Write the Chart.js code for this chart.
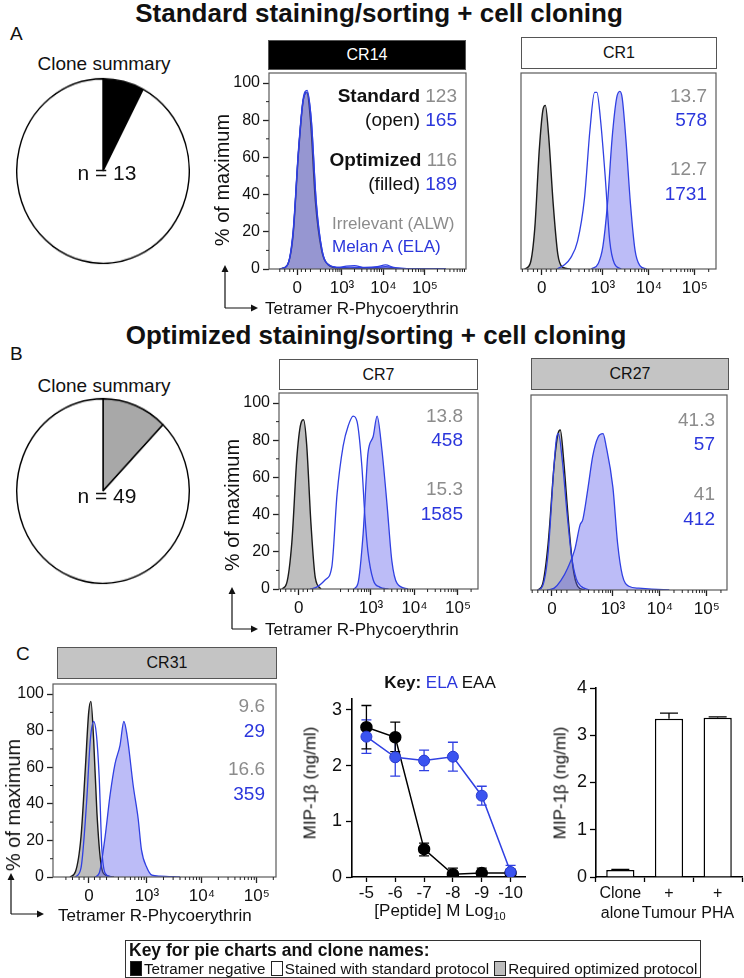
<!DOCTYPE html>
<html>
<head>
<meta charset="utf-8">
<script src="https://cdn.jsdelivr.net/npm/chart.js@4.4.1/dist/chart.umd.min.js"></script>
<style>
    body { margin: 0; background: #fff; }
    #fig { position: relative; width: 744px; height: 978px; overflow: hidden; font-family: "Liberation Sans", Arial, sans-serif; color: #111; }
    #fig canvas { position: absolute; }
    .t { position: absolute; white-space: nowrap; line-height: 1; }
    .hdr { position: absolute; box-sizing: border-box; border: 1px solid #555; font-size: 16px; display: flex; align-items: center; justify-content: center; }
    .key { position: absolute; box-sizing: border-box; border: 1px solid #333; white-space: nowrap; }
    .sw { display: inline-block; box-sizing: border-box; width: 12px; height: 15px; border: 1px solid #222; vertical-align: -2px; margin: 0 2px 0 1px; }
</style>
</head>
<body>
<div id="fig"></div>
<script>
// ---- pie summaries ----
const pieALabels = ['Tetramer negative', 'Stained with standard protocol'];
const pieAValues = [1, 12];
const pieBLabels = ['Required optimized protocol', 'Stained with standard protocol'];
const pieBValues = [6, 43];

// ---- histogram axis ----
const histTickLabels = ['0', '10³', '10⁴', '10⁵'];
const histYTicks = [0, 20, 40, 60, 80, 100];

// CR14 (standard vs optimized, all negative)
const cr14IrrX = [1.50, 1.68, 1.82, 1.95, 2.06, 2.15, 2.24, 2.36, 2.50, 2.68, 2.90, 3.40, 4.50, 5.50];
const cr14IrrY = [0, 2, 18, 62, 90, 95, 80, 36, 11, 2, 0.5, 0.3, 0.2, 0];
const cr14OpenX = [1.50, 1.68, 1.82, 1.95, 2.06, 2.16, 2.26, 2.38, 2.52, 2.70, 2.95, 3.10, 3.30, 3.55, 3.85, 4.05, 4.25, 4.60, 5.50];
const cr14OpenY = [0, 2, 20, 64, 91, 96, 80, 35, 10, 2, 0.8, 1.6, 1.8, 0.8, 1.2, 2.2, 0.8, 0.2, 0];
const cr14FillX = [1.50, 1.68, 1.82, 1.95, 2.06, 2.16, 2.26, 2.38, 2.52, 2.70, 2.95, 3.20, 3.60, 4.05, 4.40, 5.50];
const cr14FillY = [0, 2, 19, 63, 90, 95, 80, 36, 10, 2, 0.8, 1.0, 0.6, 1.2, 0.3, 0];

// CR1
const cr1IrrX = [1.30, 1.42, 1.52, 1.62, 1.70, 1.75, 1.82, 1.92, 2.02, 2.12, 2.30];
const cr1IrrY = [0, 3, 22, 65, 86, 88, 72, 35, 8, 1, 0];
const cr1OpenX = [2.00, 2.15, 2.30, 2.45, 2.60, 2.72, 2.82, 2.87, 2.95, 3.05, 3.15, 3.25, 3.40];
const cr1OpenY = [0, 2, 6, 15, 38, 75, 95, 95, 80, 50, 15, 3, 0];
const cr1FillX = [2.75, 2.90, 3.00, 3.10, 3.20, 3.30, 3.37, 3.42, 3.50, 3.60, 3.70, 3.80, 3.95];
const cr1FillY = [0, 3, 12, 35, 70, 92, 95.5, 92, 70, 35, 10, 2, 0];

// CR7
const cr7IrrX = [0.95, 1.06, 1.18, 1.30, 1.40, 1.45, 1.52, 1.62, 1.72, 1.85];
const cr7IrrY = [0, 3, 25, 72, 90, 91, 78, 35, 6, 0];
const cr7OpenX = [1.60, 1.75, 1.95, 2.10, 2.22, 2.36, 2.48, 2.59, 2.68, 2.79, 2.86, 2.93, 3.05, 3.20, 3.40];
const cr7OpenY = [0, 1, 5, 12, 51, 77, 88, 93, 90, 66, 39, 20, 5, 1, 0];
const cr7FillX = [2.60, 2.70, 2.82, 2.93, 3.05, 3.14, 3.25, 3.37, 3.48, 3.60, 3.85];
const cr7FillY = [0, 3, 30, 73, 82, 93, 75, 45, 15, 3, 0];

// CR27
const cr27IrrX = [1.40, 1.50, 1.62, 1.75, 1.83, 1.88, 1.95, 2.05, 2.15, 2.25, 2.40];
const cr27IrrY = [0, 3, 25, 68, 84, 86, 70, 38, 12, 2, 0];
const cr27OpenX = [1.40, 1.50, 1.62, 1.74, 1.80, 1.84, 1.92, 2.02, 2.12, 2.22, 2.32, 2.50];
const cr27OpenY = [0, 2, 20, 65, 82, 84, 70, 42, 18, 6, 2, 0];
const cr27FillX = [1.60, 1.75, 1.89, 2.04, 2.19, 2.30, 2.36, 2.47, 2.57, 2.68, 2.79, 2.85, 3.00, 3.10, 3.20, 3.34, 3.55, 3.83, 4.20];
const cr27FillY = [0, 1, 5, 12, 22, 35, 38, 55, 72, 82, 84, 78, 55, 25, 8, 2, 1, 0.5, 0];

// CR31
const cr31IrrX = [1.60, 1.70, 1.80, 1.88, 1.94, 1.98, 2.03, 2.09, 2.16, 2.25, 2.40];
const cr31IrrY = [0, 3, 22, 60, 90, 96, 75, 35, 8, 1, 0];
const cr31OpenX = [1.70, 1.80, 1.90, 1.97, 2.03, 2.08, 2.13, 2.18, 2.24, 2.35];
const cr31OpenY = [0, 5, 40, 75, 85, 78, 55, 15, 2, 0];
const cr31FillX = [2.05, 2.13, 2.23, 2.33, 2.42, 2.51, 2.58, 2.65, 2.75, 2.84, 2.90, 3.00, 3.09, 3.24, 3.60];
const cr31FillY = [0, 2, 20, 45, 62, 72, 85, 75, 50, 32, 15, 5, 1, 0.5, 0];

// ---- MIP-1b dose response ----
const doseX = [-5, -6, -7, -8, -9, -10];
const elaMean = [2.52, 2.15, 2.09, 2.16, 1.46, 0.09];
const elaLo = [2.22, 1.81, 1.91, 1.90, 1.29, 0.01];
const elaHi = [2.82, 2.48, 2.28, 2.42, 1.63, 0.21];
const eaaMean = [2.69, 2.51, 0.50, 0.05, 0.07, 0.07];
const eaaLo = [2.30, 2.25, 0.38, 0.02, 0.02, 0.02];
const eaaHi = [3.08, 2.78, 0.61, 0.16, 0.16, 0.14];

// ---- MIP-1b bars ----
const barLabels = [['Clone', 'alone'], ['+', 'Tumour'], ['+', 'PHA']];
const barMean = [0.15, 3.35, 3.37];
const barHi = [0.16, 3.47, 3.39];

const FONT = '"Liberation Sans", Arial, sans-serif';
const GRAY_TXT = '#8c8c8c';
const BLUE_TXT = '#2b36dc';
const BLUE_LINE = '#3040e2';
const BLUE_FILL = 'rgba(95,95,235,0.42)';
const GRAY_FILL = 'rgba(120,120,120,0.48)';

const fig = document.getElementById('fig');

// draws a box round the plot area
const framePlugin = {
    id: 'frame',
    afterDatasetsDraw(chart, args, opts) {
        if (!opts.color) return;
        const a = chart.chartArea, ctx = chart.ctx;
        ctx.save();
        ctx.strokeStyle = opts.color;
        ctx.lineWidth = 1.2;
        ctx.strokeRect(a.left, a.top, a.right - a.left, a.bottom - a.top);
        ctx.restore();
    }
};

// short unlabelled ticks placed through the chart scales
const minorTickPlugin = {
    id: 'minorTicks',
    afterDraw(chart, args, opts) {
        const a = chart.chartArea, ctx = chart.ctx;
        ctx.save();
        ctx.strokeStyle = '#222';
        ctx.lineWidth = 1;
        ctx.beginPath();
        (opts.x || []).forEach(v => {
            const px = chart.scales.x.getPixelForValue(v);
            if (px < a.left || px > a.right) return;
            ctx.moveTo(px, a.bottom); ctx.lineTo(px, a.bottom + (opts.len || 3));
        });
        (opts.y || []).forEach(v => {
            const py = chart.scales.y.getPixelForValue(v);
            ctx.moveTo(a.left - (opts.len || 3), py); ctx.lineTo(a.left, py);
        });
        ctx.stroke();
        ctx.restore();
    }
};

// error bars from lo/hi arrays
const errPlugin = {
    id: 'errBars',
    beforeDatasetsDraw(chart, args, opts) {
        if (!opts.sets) return;
        const ctx = chart.ctx, xs = chart.scales.x, ys = chart.scales.y;
        ctx.save();
        opts.sets.forEach(s => {
            ctx.strokeStyle = s.color;
            ctx.lineWidth = 1.3;
            ctx.beginPath();
            s.x.forEach((xv, i) => {
                const px = xs.getPixelForValue(xv);
                const lo = ys.getPixelForValue(s.lo ? s.lo[i] : s.mid[i]);
                const hi = ys.getPixelForValue(s.hi[i]);
                ctx.moveTo(px, lo); ctx.lineTo(px, hi);
                ctx.moveTo(px - s.cap, hi); ctx.lineTo(px + s.cap, hi);
                if (s.lo) { ctx.moveTo(px - s.cap, lo); ctx.lineTo(px + s.cap, lo); }
            });
            ctx.stroke();
        });
        ctx.restore();
    }
};

function addCanvas(box, yw, xh, pad) {
    const cv = document.createElement('canvas');
    const w = box.w + yw + pad.left + pad.right;
    const h = box.h + xh + pad.top + pad.bottom;
    cv.width = w; cv.height = h;
    cv.style.left = (box.x - yw - pad.left) + 'px';
    cv.style.top = (box.y - pad.top) + 'px';
    cv.style.width = w + 'px'; cv.style.height = h + 'px';
    fig.appendChild(cv);
    return cv;
}

function txt(html, x, y, opt = {}) {
    const d = document.createElement('div');
    d.className = 't';
    d.innerHTML = html;
    d.style.left = x + 'px';
    d.style.top = y + 'px';
    d.style.fontSize = (opt.size || 18) + 'px';
    if (opt.bold) d.style.fontWeight = 'bold';
    if (opt.color) d.style.color = opt.color;
    if (opt.rot) {
        d.style.transformOrigin = '50% 50%';
        d.style.transform = 'translate(-50%,-50%) rotate(-90deg)';
    } else {
        const ax = opt.align === 'right' ? '-100%' : opt.align === 'left' ? '0' : '-50%';
        d.style.transform = `translate(${ax},-50%)`;
    }
    fig.appendChild(d);
    return d;
}

function header(label, x, y, w, h, bg, fg) {
    const d = document.createElement('div');
    d.className = 'hdr';
    d.textContent = label;
    Object.assign(d.style, { left: x + 'px', top: y + 'px', width: w + 'px', height: h + 'px', background: bg, color: fg });
    fig.appendChild(d);
}

function pie(labels, values, colors, cx, cy, r, sy) {
    const cv = document.createElement('canvas');
    const s = 2 * r + 2;
    cv.width = s; cv.height = s;
    Object.assign(cv.style, { left: (cx - s / 2) + 'px', top: (cy - s / 2) + 'px', width: s + 'px', height: s + 'px', transform: `scaleY(${sy})` });
    fig.appendChild(cv);
    new Chart(cv, {
        type: 'pie',
        data: { labels: labels, datasets: [{ data: values, backgroundColor: colors, borderColor: '#000', borderWidth: 1.4, hoverOffset: 0, offset: 0 }] },
        options: { responsive: false, animation: false, events: [], layout: { padding: 0 }, plugins: { legend: { display: false }, tooltip: { enabled: false } } }
    });
}

function histMinorX(zero, max) {
    const out = [];
    [-0.42, -0.3, -0.18, -0.09, 0.1, 0.2, 0.32].forEach(d => out.push(zero + d));
    [3, 4, 5].forEach(dec => {
        for (let m = 2; m <= 9; m++) {
            const v = dec + Math.log10(m);
            if (v < max) out.push(v);
        }
    });
    [2.3, 2.48, 2.6, 2.7, 2.78, 2.85, 2.9, 2.95].forEach(v => { if (v > zero + 0.4) out.push(v); });
    return out;
}

function toPts(xs, ys) { return xs.map((x, i) => ({ x: x, y: ys[i] })); }

function hist(box, axis, curves, showY) {
    const yw = showY ? 42 : 0, xh = 30;
    const pad = { top: 16, right: 12, left: 2, bottom: 2 };
    const cv = addCanvas(box, yw, xh, pad);
    const line = (pts, color, fill, width) => ({
        data: pts, borderColor: color, borderWidth: width, backgroundColor: fill || 'transparent',
        fill: fill ? 'origin' : false, pointRadius: 0, cubicInterpolationMode: 'monotone'
    });
    new Chart(cv, {
        type: 'line',
        data: {
            datasets: [
                line(toPts(curves.openX, curves.openY), BLUE_LINE, null, 1.3),
                line(toPts(curves.fillX, curves.fillY), BLUE_LINE, BLUE_FILL, 1.3),
                line(toPts(curves.irrX, curves.irrY), '#1a1a1a', GRAY_FILL, 1.4)
            ]
        },
        options: {
            responsive: false, animation: false, events: [],
            layout: { padding: pad },
            plugins: {
                legend: { display: false }, tooltip: { enabled: false },
                frame: { color: '#5a5a5a' },
                minorTicks: { x: histMinorX(axis.zero, axis.max), y: showY ? [10, 30, 50, 70, 90] : [], len: 3 }
            },
            scales: {
                x: {
                    type: 'linear', min: axis.min, max: axis.max,
                    afterBuildTicks: s => { s.ticks = [axis.zero, 3, 4, 5].map(v => ({ value: v })); },
                    afterFit: s => { s.height = xh; },
                    border: { display: false },
                    grid: { drawOnChartArea: false, tickLength: 6, color: '#222', tickWidth: 1.3 },
                    ticks: { autoSkip: false, maxRotation: 0, padding: 3, color: '#111', font: { family: FONT, size: 17 }, callback: (v, i) => histTickLabels[i] }
                },
                y: {
                    display: showY, min: 0, max: axis.ymax,
                    afterBuildTicks: s => { s.ticks = histYTicks.map(v => ({ value: v })); },
                    afterFit: s => { s.width = yw; },
                    border: { display: false },
                    grid: { drawOnChartArea: false, tickLength: 6, color: '#222', tickWidth: 1.3 },
                    ticks: { padding: 3, color: '#111', font: { family: FONT, size: 16 } }
                }
            }
        },
        plugins: [framePlugin, minorTickPlugin]
    });
}

// ---------- titles and panel letters ----------
txt('Standard staining/sorting + cell cloning', 379, 13, { size: 26, bold: true });
txt('Optimized staining/sorting + cell cloning', 376, 335, { size: 26, bold: true });
txt('A', 10, 33, { size: 19, align: 'left' });
txt('B', 10, 353, { size: 19, align: 'left' });
txt('C', 16, 653, { size: 19, align: 'left' });

// ---------- pies ----------
txt('Clone summary', 104, 63, { size: 19 });
pie(pieALabels, pieAValues, ['#000', '#fff'], 103, 170.5, 86, 1.07);
txt('n = 13', 107, 172, { size: 21 });
txt('Clone summary', 104, 385, { size: 19 });
pie(pieBLabels, pieBValues, ['#a8a8a8', '#fff'], 103, 491, 86, 1.07);
txt('n = 49', 107, 495, { size: 21 });

// ---------- histograms ----------
header('CR14', 268, 40, 198, 30, '#000', '#fff');
hist({ x: 269, y: 73, w: 197, h: 196 }, { zero: 1.92, min: 1.24, max: 5.99, ymax: 105.4 },
    { irrX: cr14IrrX, irrY: cr14IrrY, openX: cr14OpenX, openY: cr14OpenY, fillX: cr14FillX, fillY: cr14FillY }, true);

header('CR1', 521, 37, 196, 32, '#fff', '#111');
hist({ x: 521, y: 73, w: 195, h: 196 }, { zero: 1.67, min: 1.22, max: 5.46, ymax: 105.4 },
    { irrX: cr1IrrX, irrY: cr1IrrY, openX: cr1OpenX, openY: cr1OpenY, fillX: cr1FillX, fillY: cr1FillY }, false);

header('CR7', 279, 359, 199, 31, '#fff', '#111');
hist({ x: 279, y: 393, w: 199, h: 196 }, { zero: 1.34, min: 0.885, max: 5.46, ymax: 105.4 },
    { irrX: cr7IrrX, irrY: cr7IrrY, openX: cr7OpenX, openY: cr7OpenY, fillX: cr7FillX, fillY: cr7FillY }, true);

header('CR27', 531, 358, 198, 32, '#c4c4c4', '#111');
hist({ x: 531, y: 395, w: 196, h: 195 }, { zero: 1.70, min: 1.255, max: 5.43, ymax: 104.8 },
    { irrX: cr27IrrX, irrY: cr27IrrY, openX: cr27OpenX, openY: cr27OpenY, fillX: cr27FillX, fillY: cr27FillY }, false);

header('CR31', 57, 647, 220, 32, '#c4c4c4', '#111');
hist({ x: 53, y: 684, w: 223, h: 193 }, { zero: 1.945, min: 1.29, max: 5.35, ymax: 105.5 },
    { irrX: cr31IrrX, irrY: cr31IrrY, openX: cr31OpenX, openY: cr31OpenY, fillX: cr31FillX, fillY: cr31FillY }, true);

// annotations
txt('<b style="color:#111">Standard</b> 123', 457, 95, { size: 19, align: 'right', color: GRAY_TXT });
txt('<span style="color:#111">(open)</span> 165', 457, 119, { size: 19, align: 'right', color: BLUE_TXT });
txt('<b style="color:#111">Optimized</b> 116', 457, 159, { size: 19, align: 'right', color: GRAY_TXT });
txt('<span style="color:#111">(filled)</span> 189', 457, 183, { size: 19, align: 'right', color: BLUE_TXT });
txt('Irrelevant (ALW)', 332, 223, { size: 17, align: 'left', color: GRAY_TXT });
txt('Melan A (ELA)', 332, 246, { size: 17, align: 'left', color: BLUE_TXT });

[['13.7', 95, GRAY_TXT], ['578', 119, BLUE_TXT], ['12.7', 168, GRAY_TXT], ['1731', 193, BLUE_TXT]]
    .forEach(r => txt(r[0], 707, r[1], { size: 19, align: 'right', color: r[2] }));
[['13.8', 415, GRAY_TXT], ['458', 439, BLUE_TXT], ['15.3', 488, GRAY_TXT], ['1585', 513, BLUE_TXT]]
    .forEach(r => txt(r[0], 463, r[1], { size: 19, align: 'right', color: r[2] }));
[['41.3', 419, GRAY_TXT], ['57', 443, BLUE_TXT], ['41', 493, GRAY_TXT], ['412', 518, BLUE_TXT]]
    .forEach(r => txt(r[0], 715, r[1], { size: 19, align: 'right', color: r[2] }));
[['9.6', 705, GRAY_TXT], ['29', 730, BLUE_TXT], ['16.6', 768, GRAY_TXT], ['359', 793, BLUE_TXT]]
    .forEach(r => txt(r[0], 265, r[1], { size: 19, align: 'right', color: r[2] }));

// axis titles for histograms
txt('% of maximum', 222, 180, { size: 20, rot: true });
txt('% of maximum', 232, 505, { size: 20, rot: true });
txt('% of maximum', 13, 805, { size: 20, rot: true });
txt('Tetramer R-Phycoerythrin', 265, 308, { size: 17, align: 'left' });
txt('Tetramer R-Phycoerythrin', 265, 629, { size: 17, align: 'left' });
txt('Tetramer R-Phycoerythrin', 58, 915, { size: 17, align: 'left' });

// axis arrows
const svgNS = 'http://www.w3.org/2000/svg';
const svg = document.createElementNS(svgNS, 'svg');
svg.setAttribute('width', 744); svg.setAttribute('height', 978);
svg.style.position = 'absolute'; svg.style.left = 0; svg.style.top = 0;
[[225, 308, 265, 258], [232, 629, 587, 258], [11, 914, 873, 44]].forEach(a => {
    const [x, y, yTop, xRight] = a;
    svg.innerHTML += `<path d="M${x} ${y} L${x} ${yTop + 6} M${x} ${y} L${xRight - 6} ${y}" stroke="#111" stroke-width="1.2" fill="none"/>` +
        `<path d="M${x - 3.5} ${yTop + 7} L${x} ${yTop} L${x + 3.5} ${yTop + 7} Z M${xRight - 7} ${y - 3.5} L${xRight} ${y} L${xRight - 7} ${y + 3.5} Z" fill="#111"/>`;
});
fig.appendChild(svg);

// ---------- dose response ----------
txt('<b>Key:</b> <span style="color:' + BLUE_TXT + '">ELA</span> EAA', 440, 682, { size: 17 });
(function () {
    const box = { x: 352, y: 698, w: 173, h: 179 };
    const yw = 32, xh = 24, pad = { top: 14, right: 16, left: 2, bottom: 2 };
    const cv = addCanvas(box, yw, xh, pad);
    new Chart(cv, {
        type: 'line',
        data: {
            datasets: [
                { data: toPts(doseX, elaMean), borderColor: BLUE_LINE, backgroundColor: '#3b54f0', pointBorderColor: '#2a3bd0', borderWidth: 1.5, pointRadius: 5.5, pointBorderWidth: 1, tension: 0 },
                { data: toPts(doseX, eaaMean), borderColor: '#000', backgroundColor: '#000', borderWidth: 1.5, pointRadius: 5.5, tension: 0 }
            ]
        },
        options: {
            responsive: false, animation: false, events: [],
            layout: { padding: pad },
            plugins: {
                legend: { display: false }, tooltip: { enabled: false },
                errBars: { sets: [
                    { x: doseX, lo: elaLo, hi: elaHi, color: BLUE_LINE, cap: 5 },
                    { x: doseX, lo: eaaLo, hi: eaaHi, color: '#000', cap: 5 }
                ] }
            },
            scales: {
                x: {
                    type: 'linear', reverse: true, min: -10.5, max: -4.5,
                    afterBuildTicks: s => { s.ticks = doseX.map(v => ({ value: v })); },
                    afterFit: s => { s.height = xh; },
                    border: { color: '#000', width: 1.6 },
                    grid: { drawOnChartArea: false, tickLength: 5, color: '#000', tickWidth: 1.3 },
                    ticks: { autoSkip: false, maxRotation: 0, padding: 1, color: '#111', font: { family: FONT, size: 17 } }
                },
                y: {
                    min: 0, max: 3.2,
                    afterBuildTicks: s => { s.ticks = [0, 1, 2, 3].map(v => ({ value: v })); },
                    afterFit: s => { s.width = yw; },
                    border: { color: '#000', width: 1.6 },
                    grid: { drawOnChartArea: false, tickLength: 6, color: '#000', tickWidth: 1.3 },
                    ticks: { padding: 4, color: '#111', font: { family: FONT, size: 18 } }
                }
            }
        },
        plugins: [errPlugin]
    });
})();
txt('MIP-1β (ng/ml)', 310, 783, { size: 17, rot: true });
txt('[Peptide] M Log<sub style="font-size:11px">10</sub>', 440, 912, { size: 17 });

// ---------- bars ----------
(function () {
    const box = { x: 596, y: 688, w: 146, h: 189 };
    const yw = 26, xh = 46, pad = { top: 14, right: 2, left: 2, bottom: 2 };
    const cv = addCanvas(box, yw, xh, pad);
    new Chart(cv, {
        type: 'bar',
        data: { labels: barLabels, datasets: [{ data: barMean, backgroundColor: '#fff', borderColor: '#000', borderWidth: 1.5, barPercentage: 0.58, categoryPercentage: 1 }] },
        options: {
            responsive: false, animation: false, events: [],
            layout: { padding: pad },
            plugins: {
                legend: { display: false }, tooltip: { enabled: false },
                errBars: { sets: [{ x: [0, 1, 2], mid: barMean, hi: barHi, color: '#000', cap: 9 }] }
            },
            scales: {
                x: {
                    afterFit: s => { s.height = xh; },
                    border: { color: '#000', width: 1.6 },
                    grid: { drawOnChartArea: false, tickLength: 5, color: '#000', tickWidth: 1.3 },
                    ticks: { autoSkip: false, maxRotation: 0, minRotation: 0, padding: 2, color: '#111', font: { family: FONT, size: 16, lineHeight: 1.25 } }
                },
                y: {
                    min: 0, max: 4,
                    afterBuildTicks: s => { s.ticks = [0, 1, 2, 3, 4].map(v => ({ value: v })); },
                    afterFit: s => { s.width = yw; },
                    border: { color: '#000', width: 1.6 },
                    grid: { drawOnChartArea: false, tickLength: 6, color: '#000', tickWidth: 1.3 },
                    ticks: { padding: 3, color: '#111', font: { family: FONT, size: 18 } }
                }
            }
        },
        plugins: [errPlugin]
    });
})();
txt('MIP-1β (ng/ml)', 560, 783, { size: 17, rot: true });

// ---------- key box ----------
const key = document.createElement('div');
key.className = 'key';
Object.assign(key.style, { left: '125px', top: '940px', width: '576px', height: '38px', fontSize: '15.2px', lineHeight: '17px', padding: '0 3px' });
key.innerHTML = '<b style="font-size:17.5px;line-height:19px">Key for pie charts and clone names:</b><br>' +
    '<span class="sw" style="background:#000"></span>Tetramer negative ' +
    '<span class="sw" style="background:#fff"></span>Stained with standard protocol ' +
    '<span class="sw" style="background:#bdbdbd"></span>Required optimized protocol';
fig.appendChild(key);
</script>
</body>
</html>
